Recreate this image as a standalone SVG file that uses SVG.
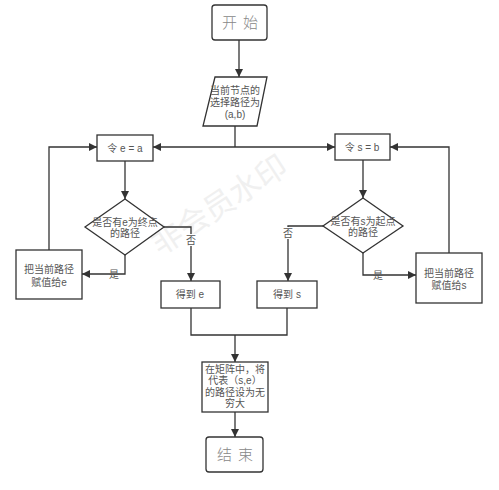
<svg xmlns="http://www.w3.org/2000/svg" width="499" height="490" viewBox="0 0 499 490">
<defs>
<marker id="ah" viewBox="0 0 10 10" refX="10" refY="5" markerWidth="8" markerHeight="8" markerUnits="userSpaceOnUse" orient="auto">
<path d="M0,0 L10,5 L0,10 z" fill="#333"/>
</marker>
<style>
.b{fill:#fff;stroke:#333;stroke-width:1.3}
.c{fill:none;stroke:#333;stroke-width:1.3}
.a{marker-end:url(#ah)}
.t{font-family:"Liberation Sans","Noto Sans CJK SC",sans-serif;font-size:10px;fill:#555;text-anchor:middle}
.s{font-family:"Noto Sans CJK SC",sans-serif;font-size:15px;font-weight:300;fill:#888;text-anchor:middle;letter-spacing:6px}
.lb{font-family:"Liberation Sans","Noto Sans CJK SC",sans-serif;font-size:10px;fill:#555;text-anchor:middle}
</style>
</defs>
<rect width="499" height="490" fill="#fff"/>
<text x="225" y="214" transform="rotate(-33 225 214)" font-family="Noto Sans CJK SC,sans-serif" font-size="31" fill="#f0f0f0" text-anchor="middle">非会员水印</text>
<g id="connectors">
<path class="c a" d="M239,40 V77"/>
<path class="c" d="M235,126 V147"/>
<path class="c a" d="M235,147 H153"/>
<path class="c a" d="M235,147 H335"/>
<path class="c a" d="M125,161 V199"/>
<path class="c a" d="M363,160 V198"/>
<path class="c a" d="M164,227 H191 V281"/>
<path class="c a" d="M125,255 V274 H82"/>
<path class="c a" d="M49,250 V147 H97"/>
<path class="c a" d="M323,226 H288 V281"/>
<path class="c a" d="M363,253 V275 H416"/>
<path class="c a" d="M449,253 V147 H390"/>
<path class="c" d="M191,308 V335 H287 V308"/>
<path class="c a" d="M235,335 V362"/>
<path class="c a" d="M235,412 V437"/>
<rect x="185" y="234" width="12" height="12" fill="#fff"/>
<text class="lb" x="191" y="244">否</text>
<rect x="282" y="227" width="12" height="12" fill="#fff"/>
<text class="lb" x="288" y="237">否</text>
<text class="lb" x="114" y="278">是</text>
<text class="lb" x="378" y="279">是</text>
</g>
<g id="start">
<rect class="b" x="212" y="5" width="55" height="35" rx="3"/>
<text class="s" x="243" y="28">开始</text>
</g>
<g id="input">
<polygon class="b" points="215,77 267,77 257,126 203,126"/>
<text class="t" x="235" y="94">当前节点的</text>
<text class="t" x="235" y="106">选择路径为</text>
<text class="t" x="235" y="118">(a,b)</text>
</g>
<g id="set-e">
<rect class="b" x="97" y="135" width="56" height="26"/>
<text class="t" x="125" y="152">令 e = a</text>
</g>
<g id="set-s">
<rect class="b" x="335" y="134" width="55" height="26"/>
<text class="t" x="362" y="151">令 s = b</text>
</g>
<g id="dec-e">
<polygon class="b" points="125,199 164,227 125,255 85,227"/>
<text class="t" x="125" y="226">是否有e为终点</text>
<text class="t" x="125" y="237">的路径</text>
</g>
<g id="dec-s">
<polygon class="b" points="363,198 403,226 363,253 323,226"/>
<text class="t" x="363" y="225">是否有s为起点</text>
<text class="t" x="363" y="236">的路径</text>
</g>
<g id="assign-e">
<rect class="b" x="16" y="250" width="66" height="49"/>
<text class="t" x="49" y="273">把当前路径</text>
<text class="t" x="49" y="286">赋值给e</text>
</g>
<g id="assign-s">
<rect class="b" x="416" y="253" width="66" height="50"/>
<text class="t" x="449" y="277">把当前路径</text>
<text class="t" x="449" y="289">赋值给s</text>
</g>
<g id="get-e">
<rect class="b" x="161" y="281" width="59" height="27"/>
<text class="t" x="190" y="298">得到 e</text>
</g>
<g id="get-s">
<rect class="b" x="257" y="281" width="60" height="27"/>
<text class="t" x="287" y="298">得到 s</text>
</g>
<g id="matrix">
<rect class="b" x="202" y="362" width="66" height="50"/>
<text class="t" x="235" y="373">在矩阵中，将</text>
<text class="t" x="235" y="384">代表（s,e）</text>
<text class="t" x="235" y="396">的路径设为无</text>
<text class="t" x="235" y="407">穷大</text>
</g>
<g id="end">
<rect class="b" x="206" y="437" width="57" height="35" rx="3"/>
<text class="s" x="238" y="460">结束</text>
</g>
</svg>
